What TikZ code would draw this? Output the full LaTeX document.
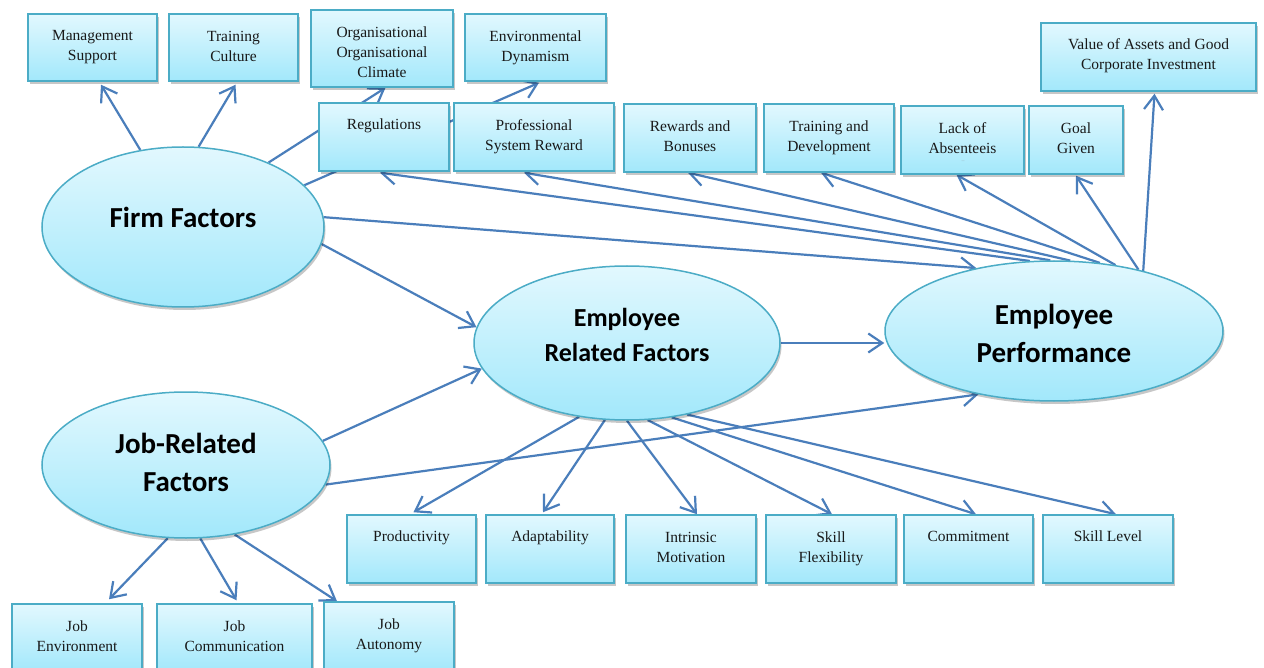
\documentclass[tikz,border=0pt]{standalone}
\usepackage{fontspec}
\setmainfont{Liberation Serif}
\newfontfamily\calib{Carlito}
\usetikzlibrary{arrows.meta,shapes.geometric,shadows,backgrounds,calc}

\definecolor{edgeblue}{RGB}{74,126,187}
\definecolor{rimteal}{RGB}{75,172,198}
\definecolor{filltop}{RGB}{226,248,254}
\definecolor{fillbot}{RGB}{162,232,251}

\tikzset{
  box/.style={rectangle, draw=rimteal, line width=1.5pt, top color=filltop, bottom color=fillbot,
    inner sep=0pt, drop shadow={shadow xshift=1.5pt, shadow yshift=-3pt, fill=black, opacity=0.22}},
  boxtext/.style={anchor=north, inner sep=0pt, align=center, text=black!90,
    font=\fontsize{15.5}{20}\selectfont, execute at begin node=\strut},
  ell/.style={ellipse, draw=rimteal, line width=1.5pt, top color=filltop, bottom color=fillbot,
    inner sep=0pt, drop shadow={shadow xshift=1.5pt, shadow yshift=-3pt, fill=black, opacity=0.22}},
  elltext/.style={align=center, inner sep=0pt, text=black},
  conn/.style={draw=edgeblue, line width=2.2pt,
    -{Straight Barb[length=14pt,width=19pt,line width=2.2pt]}},
}

% rectangle label box: [text drop], name, x1, y1, x2, y2, text
\newcommand\tbox[7][17.4]{%
  \node[box, minimum width={#5-#3}, minimum height={#6-#4}] (#2) at ({(#3+#5)/2},{(#4+#6)/2}) {};
  \node[boxtext] (#2-t) at ([yshift=-#1pt]#2.north) {#7};
}

\begin{document}
\begin{tikzpicture}[x=1pt, y=-1pt]
\useasboundingbox (0,0) rectangle (1264,668);
\clip (0,0) rectangle (1264,668);

% top row of factor boxes
\tbox{mgmt}{28}{14}{157}{81}{Management\\Support}
\tbox{trcult}{169}{14}{298}{81}{Training\\Culture}
\tbox{orgclim}{311}{10}{453}{87}{Organisational\\Organisational\\Climate}
\tbox{envdyn}{465}{14}{606}{81}{Environmental\\Dynamism}
\tbox[16.4]{value}{1041}{23}{1256}{91}{Value of Assets and Good\\Corporate Investment}

% second row
\tbox[13.4]{regs}{319}{103}{449}{171}{Regulations}
\tbox{prof}{454}{103}{614}{171}{Professional\\System Reward}
\tbox{rewards}{624}{104}{756}{172}{Rewards and\\Bonuses}
\tbox{traindev}{764}{104}{894}{172}{Training and\\Development}
\tbox{lack}{901}{106}{1024}{174}{Lack of\\Absenteeis}
\node[inner sep=0pt, text=black!45, font=\fontsize{4}{4}\selectfont] (lack-dots) at (963,161) {...};
\tbox{goal}{1029}{106}{1123}{174}{Goal\\Given}

% outcome boxes
\tbox[13.4]{prod}{347}{515}{476}{583}{Productivity}
\tbox[13.4]{adapt}{486}{515}{614}{583}{Adaptability}
\tbox{intr}{626}{515}{756}{583}{Intrinsic\\Motivation}
\tbox{skflex}{766}{515}{896}{583}{Skill\\Flexibility}
\tbox[13.4]{commit}{904}{515}{1033}{583}{Commitment}
\tbox[13.4]{sklvl}{1043}{515}{1173}{583}{Skill Level}

% job boxes
\tbox{jobenv}{12}{604}{142}{672}{Job\\Environment}
\tbox{jobcomm}{157}{604}{312}{672}{Job\\Communication}
\tbox{jobaut}{324}{602}{454}{672}{Job\\Autonomy}

% main constructs
\node[ell, minimum width=282pt, minimum height=160pt] (firm) at (183,227) {};
\node[elltext, font=\calib\bfseries\fontsize{29}{35}\selectfont] (firm-t) at (183,217) {Firm Factors};
\node[ell, minimum width=306pt, minimum height=154pt] (erf) at (627,343) {};
\node[elltext, font=\calib\bfseries\fontsize{26}{35}\selectfont] (erf-t) at (627,335) {Employee\\Related Factors};
\node[ell, minimum width=338pt, minimum height=140pt] (ep) at (1054,331) {};
\node[elltext, font=\calib\bfseries\fontsize{29}{38}\selectfont] (ep-t) at (1054,333) {Employee\\Performance};
\node[ell, minimum width=288pt, minimum height=146pt] (jobr) at (186,465) {};
\node[elltext, font=\calib\bfseries\fontsize{29}{38}\selectfont] (jobr-t) at (186,462) {Job-Related\\Factors};

\begin{pgfonlayer}{background}
\fill[white] (0,0) rectangle (1264,668);
% firm factors
\draw[conn] (firm.119) -- ([xshift=8.5pt,yshift=-3pt]mgmt.south);
\draw[conn] (firm.79) -- ([xshift=2pt,yshift=-3pt]trcult.south);
\draw[conn] (firm.37) -- ([xshift=3.5pt]orgclim.south);
\draw[conn] (firm.19) -- ([xshift=3.5pt,yshift=-1pt]envdyn.south);
\draw[conn] (firm.4) -- (ep.141);
\draw[conn] (firm.-7) -- (erf.174);
% performance indicators
\draw[conn] (ep.109) -- ([xshift=-4pt,yshift=-1pt]regs.south);
\draw[conn] (ep.93) -- ([xshift=-10pt,yshift=-1pt]prof.south);
\draw[conn] (ep.77) -- ([xshift=-2pt]rewards.south);
\draw[conn] (ep.56) -- ([xshift=-8pt]traindev.south);
\draw[conn] (ep.47) -- ([xshift=-6pt]lack.south);
\draw[conn] (ep.36) -- ([yshift=-1pt]goal.south);
\draw[conn] (ep.34) -- ([xshift=6pt,yshift=-2pt]value.south);
% employee related factors
\draw[conn] (erf.east) -- (erf.east -| ep.west);
\draw[conn] (erf.237) -- ([xshift=2pt,yshift=2pt]prod.north);
\draw[conn] (erf.254) -- ([xshift=-7pt,yshift=2pt]adapt.north);
\draw[conn] (erf.south) -- ([xshift=6pt]intr.north);
\draw[conn] (erf.285) -- ([xshift=1pt]skflex.north);
\draw[conn] (erf.301) -- ([xshift=7.5pt]commit.north);
\draw[conn] (erf.310) -- ([xshift=8pt]sklvl.north);
% job related factors
\draw[conn] (jobr.10) -- (erf.190);
\draw[conn] (jobr.-8) -- (ep.220);
\draw[conn] (jobr.256) -- ([xshift=32pt,yshift=4pt]jobenv.north);
\draw[conn] (jobr.281) -- ([xshift=2pt,yshift=3pt]jobcomm.north);
\draw[conn] (jobr.305) -- ([xshift=-52pt]jobaut.north);
\end{pgfonlayer}
\end{tikzpicture}
\end{document}
